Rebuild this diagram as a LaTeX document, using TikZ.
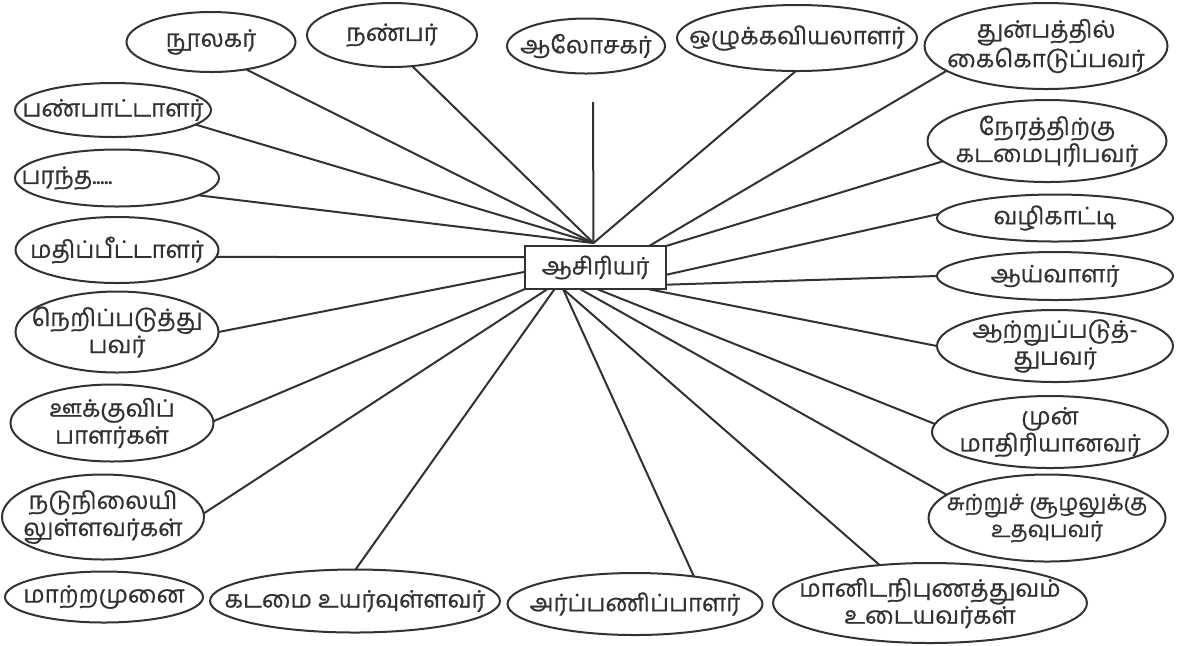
\documentclass[tikz,border=0pt]{standalone}
\usepackage{fontspec}
\usetikzlibrary{shapes.geometric,calc}
\newfontfamily\tamilfont[Script=Tamil, FakeBold=0.6]{Hind Madurai}
\newcommand\tam{\tamilfont\fontsize{12}{13.5}\selectfont}
\definecolor{ink}{RGB}{50,50,50}
\tikzset{
  oval/.style={ellipse, draw=ink, line width=1pt, inner sep=0pt, outer sep=0pt},
  lbl/.style={font=\tam, align=center, text=ink, inner sep=0pt},
  link/.style={draw=ink, line width=1pt},
  hubbox/.style={draw=ink, line width=1pt, inner sep=0pt, outer sep=0pt, font=\tam, text=ink}
}
\newcommand\ovl[6]{\node[oval, minimum width={#4*0.5pt}, minimum height={#5*0.5pt},
  label={[lbl]center:{#6}}] (#1) at (#2,#3) {};}
\begin{document}
\begin{tikzpicture}[x=0.5pt, y=-0.5pt]
\useasboundingbox (0,0) rectangle (1183,645);
\fill[white] (0,0) rectangle (1183,645);

\node[hubbox, minimum width=70.5pt, minimum height=21.5pt] (hub) at (595.5,267.5) {ஆசிரியர்};

% top row
\ovl{n1}{211}{42}{169}{60}{நூலகர்}
\ovl{n2}{392}{35}{170}{64}{நண்பர்}
\ovl{n3}{586}{46}{158}{55}{ஆலோசகர்}
\ovl{n4}{797}{38}{240}{66}{ஒழுக்கவியலாளர்}
\ovl{n5}{1046}{46}{243}{86}{துன்பத்தில்\\கைகொடுப்பவர்}
% right column
\ovl{n6}{1047}{141}{239}{82}{நேரத்திற்கு\\கடமைபுரிபவர்}
\ovl{n7}{1055}{218}{236}{47}{வழிகாட்டி}
\ovl{n8}{1055}{276}{236}{48}{ஆய்வாளர்}
\ovl{n9}{1055}{346}{236}{72}{ஆற்றுப்படுத்-\\துபவர்}
\ovl{n10}{1050}{432}{236}{72}{முன்\\மாதிரியானவர்}
\node[oval, minimum width=118.5pt, minimum height=43.5pt,
  label={[lbl, font=\tamilfont\fontsize{11.2}{13.5}\selectfont]center:{சுற்றுச் சூழலுக்கு\\உதவுபவர்}}] (n11) at (1047,518) {};
% bottom row
\ovl{n12}{930}{603}{314}{80}{மானிடநிபுணத்துவம்\\உடையவர்கள்}
\ovl{n13}{635}{604}{255}{62}{அர்ப்பணிப்பாளர்}
\ovl{n14}{355}{601}{290}{63}{கடமை உயர்வுள்ளவர்}
\ovl{n15}{104}{597}{198}{51}{மாற்றமுனை}
% left column
\ovl{n16}{103}{517}{202}{85}{நடுநிலையி\\லுள்ளவர்கள்}
\ovl{n17}{112}{423}{203}{77}{ஊக்குவிப்\\பாளர்கள்}
\ovl{n18}{117}{332}{203}{81}{நெறிப்படுத்து\\பவர்}
\ovl{n19}{117}{250}{203}{66}{மதிப்பீட்டாளர்}
\node[oval, minimum width=102pt, minimum height=28.5pt,
  label={[lbl, anchor=west, xshift=3pt]west:{பரந்த.....}}] (n20) at (117,178) {};
\ovl{n21}{113}{110}{196}{54}{பண்பாட்டாளர்}

% convergence points on the central box
\coordinate (top) at ($(hub.north)+(-2,-3)$);
\coordinate (tr) at ($(hub.north east)!0.12!(hub.north west)$);
\coordinate (r1) at ($(hub.north east)!0.67!(hub.south east)$);
\coordinate (r2) at ($(hub.north east)!0.9!(hub.south east)$);
\coordinate (l1) at ($(hub.north west)!0.26!(hub.south west)$);
\coordinate (l2) at ($(hub.north west)!0.6!(hub.south west)$);
\coordinate (b1) at ($(hub.south west)!0.16!(hub.south east)$);
\coordinate (b2) at ($(hub.south west)!0.21!(hub.south east)$);
\coordinate (b3) at ($(hub.south west)!0.27!(hub.south east)$);
\coordinate (b4) at ($(hub.south west)!0.39!(hub.south east)$);
\coordinate (b5) at ($(hub.south west)!0.51!(hub.south east)$);
\coordinate (b6) at ($(hub.south west)!0.87!(hub.south east)$);
\coordinate (a3) at (593,102);

\draw[link] (n1.-38) -- (top);
\draw[link] (n2.-57) -- (top);
\draw[link] (a3) -- (top);
\draw[link] (n4.-92) -- (top);
\draw[link] (n5.-166) -- (tr);
\draw[link] (n6.-169) -- (hub.north east);
\draw[link] (n7.178) -- (r1);
\draw[link] (n8.180) -- (r2);
\draw[link] (n9.180) -- (b6);
\draw[link] (n10.176) -- (b5);
\draw[link] (n11.167) -- (b4);
\draw[link] (n12.143) -- (b3);
\draw[link] (n13.25) -- (b3);
\draw[link] (n14.89) -- (b2);
\draw[link] (n16.2) -- (b1);
\draw[link] (n17.1) -- (hub.south west);
\draw[link] (n18.0) -- (l2);
\draw[link] (n19.-4) -- (l1);
\draw[link] (n20.-12) -- (top);
\draw[link] (n21.-10) -- (top);
\end{tikzpicture}
\end{document}
